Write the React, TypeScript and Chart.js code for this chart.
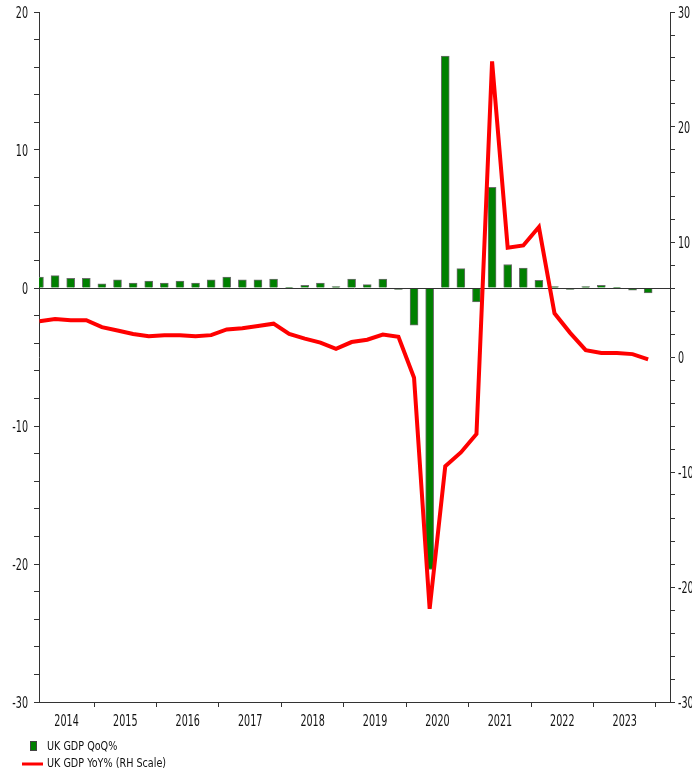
import React, { useEffect, useRef } from 'react';
import { Chart, registerables } from 'chart.js';

Chart.register(...registerables);

// Calendar years shown on the x axis (each has four quarters, 2014 Q1 .. 2023 Q4)
const YEARS = ['2014', '2015', '2016', '2017', '2018', '2019', '2020', '2021', '2022', '2023'];

// UK GDP quarter-on-quarter % (left scale)
const QOQ = [
  0.8, 0.9, 0.7, 0.7,
  0.3, 0.6, 0.35, 0.5,
  0.35, 0.5, 0.35, 0.6,
  0.8, 0.6, 0.6, 0.65,
  0.05, 0.2, 0.35, 0.1,
  0.65, 0.25, 0.65, -0.1,
  -2.7, -20.4, 16.8, 1.4,
  -1.0, 7.3, 1.7, 1.45,
  0.55, 0.1, -0.1, 0.1,
  0.2, 0.02, -0.15, -0.35,
];

// UK GDP year-on-year % (right scale)
const YOY = [
  3.1, 3.3, 3.2, 3.2,
  2.6, 2.3, 2.0, 1.8,
  1.9, 1.9, 1.8, 1.9,
  2.4, 2.5, 2.7, 2.9,
  2.0, 1.6, 1.25, 0.7,
  1.3, 1.5, 1.95, 1.75,
  -1.8, -21.9, -9.5, -8.3,
  -6.7, 25.7, 9.5, 9.7,
  11.3, 3.8, 2.1, 0.6,
  0.35, 0.35, 0.25, -0.2,
];

const LEFT_MIN = -30;
const LEFT_MAX = 20;
const RIGHT_MIN = -30;
const RIGHT_MAX = 30;
const MINOR_STEP = 2;
const LABEL_STEP = 10;

const FONT = '"DejaVu Sans", "Liberation Sans", sans-serif';
const TEXT_COLOR = '#111111';
const AXIS_COLOR = '#333333';
const BAR_COLOR = '#008000';
const BAR_BORDER = '#6e6e6e';
const LINE_COLOR = '#ff0000';

function squashText(
  ctx: CanvasRenderingContext2D,
  text: string,
  x: number,
  y: number,
  align: CanvasTextAlign,
  size: number,
  sx: number
) {
  ctx.save();
  ctx.font = `${size}px ${FONT}`;
  ctx.fillStyle = TEXT_COLOR;
  ctx.textAlign = align;
  ctx.textBaseline = 'alphabetic';
  ctx.translate(x, y);
  ctx.scale(sx, 1);
  ctx.fillText(text, 0, 0);
  ctx.restore();
}

const textPlugin = {
  id: 'squashedText',
  afterDatasetDraw(chart: any, args: any) {
    if (args.index !== 0) return;
    const { ctx, chartArea } = chart;
    const py = Math.round(chart.scales.y.getPixelForValue(0)) + 0.5;
    ctx.save();
    ctx.strokeStyle = AXIS_COLOR;
    ctx.lineWidth = 1;
    ctx.beginPath();
    ctx.moveTo(chartArea.left, py);
    ctx.lineTo(chartArea.right, py);
    ctx.stroke();
    ctx.restore();
  },
  afterDraw(chart: any) {
    const { ctx, chartArea, scales } = chart;
    const sy = scales.y;
    const sy1 = scales.y1;
    const sx = scales.x;
    const TS = 15;
    const SQ = 0.64;
    sy.ticks.forEach((t: any) => {
      if (Math.abs(t.value % LABEL_STEP) < 1e-9) {
        squashText(ctx, String(t.value), chartArea.left - 11, sy.getPixelForValue(t.value) + 5.5, 'right', TS, SQ);
      }
    });
    sy1.ticks.forEach((t: any) => {
      if (Math.abs(t.value % LABEL_STEP) < 1e-9) {
        squashText(ctx, String(t.value), chartArea.right + 8, sy1.getPixelForValue(t.value) + 5.5, 'left', TS, SQ);
      }
    });
    const bounds = sx.ticks.map((t: any) => sx.getPixelForValue(t.value));
    YEARS.forEach((yr, k) => {
      const left = k === 0 ? chartArea.left : bounds[k - 1];
      const right = bounds[k];
      squashText(ctx, yr, (left + right) / 2, chartArea.bottom + 24, 'center', TS, SQ);
    });
    // legend
    const ds = chart.data.datasets;
    ctx.save();
    ctx.fillStyle = BAR_COLOR;
    ctx.fillRect(30, 741, 7, 10);
    ctx.strokeStyle = '#444';
    ctx.lineWidth = 1;
    ctx.strokeRect(30.5, 741.5, 6, 9);
    ctx.strokeStyle = LINE_COLOR;
    ctx.lineWidth = 3;
    ctx.beginPath();
    ctx.moveTo(22, 764);
    ctx.lineTo(43, 764);
    ctx.stroke();
    ctx.restore();
    squashText(ctx, ds[0].label, 47, 750, 'left', 13, 0.74);
    squashText(ctx, ds[1].label, 47, 767, 'left', 13, 0.74);
  },
};

export default function App() {
  const ref = useRef<HTMLCanvasElement | null>(null);

  useEffect(() => {
    if (!ref.current) return;
    const boundaries = YEARS.map((_, k) => 4 * k + 3.5);
    const chart = new Chart(ref.current, {
      type: 'bar',
      data: {
        datasets: [
          {
            type: 'bar',
            label: 'UK GDP QoQ%',
            data: QOQ.map((v, i) => ({ x: i, y: v })),
            backgroundColor: BAR_COLOR,
            borderColor: BAR_BORDER,
            borderWidth: 1,
            barThickness: 8,
            xAxisID: 'x',
            yAxisID: 'y',
            order: 1,
            clip: 0,
          } as any,
          {
            type: 'line',
            label: 'UK GDP YoY% (RH Scale)',
            data: YOY.map((v, i) => ({ x: i, y: v })),
            borderColor: LINE_COLOR,
            borderWidth: 4,
            pointRadius: 0,
            tension: 0,
            fill: false,
            xAxisID: 'x',
            yAxisID: 'y1',
            order: 0,
          } as any,
        ],
      },
      options: {
        animation: false,
        responsive: false,
        maintainAspectRatio: false,
        layout: { padding: { top: 12, left: 0, right: 0, bottom: 0 } },
        plugins: { legend: { display: false }, tooltip: { enabled: false } },
        scales: {
          x: {
            type: 'linear',
            min: -0.03,
            max: 40.4,
            offset: false,
            bounds: 'ticks',
            position: 'bottom',
            afterBuildTicks: (s: any) => {
              s.ticks = boundaries.map((v) => ({ value: v }));
            },
            ticks: { display: false, autoSkip: false },
            grid: { offset: false, drawOnChartArea: false, drawTicks: true, tickLength: 5, color: AXIS_COLOR, lineWidth: 1 },
            border: { display: true, color: AXIS_COLOR, width: 1 },
            afterFit: (s: any) => {
              s.height = 69;
            },
          },
          y: {
            type: 'linear',
            position: 'left',
            min: LEFT_MIN,
            max: LEFT_MAX,
            ticks: { display: false, stepSize: MINOR_STEP, autoSkip: false },
            grid: { drawOnChartArea: false, drawTicks: true, tickLength: 5, color: AXIS_COLOR, lineWidth: 1 },
            border: { display: true, color: AXIS_COLOR, width: 1 },
            afterFit: (s: any) => {
              s.width = 39;
            },
          },
          y1: {
            type: 'linear',
            position: 'right',
            min: RIGHT_MIN,
            max: RIGHT_MAX,
            ticks: { display: false, stepSize: MINOR_STEP, autoSkip: false },
            grid: { drawOnChartArea: false, drawTicks: true, tickLength: 5, color: AXIS_COLOR, lineWidth: 1 },
            border: { display: true, color: AXIS_COLOR, width: 1 },
            afterFit: (s: any) => {
              s.width = 22;
            },
          },
        },
      } as any,
      plugins: [textPlugin as any],
    });
    return () => chart.destroy();
  }, []);

  return (
    <div style={{ position: 'absolute', left: 0, top: 0, width: 692, height: 771, background: '#ffffff' }}>
      <canvas ref={ref} width={692} height={771} style={{ display: 'block', width: 692, height: 771 }} />
    </div>
  );
}
